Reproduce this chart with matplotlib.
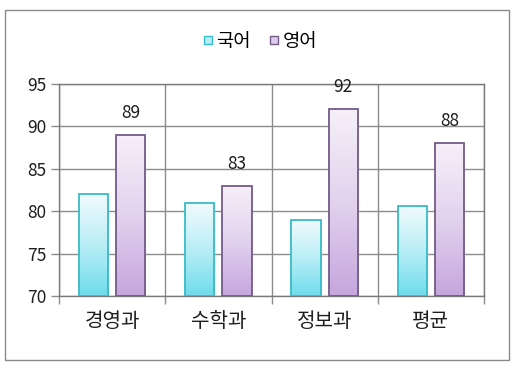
import matplotlib
matplotlib.use("Agg")
import matplotlib.pyplot as plt
import numpy as np
from matplotlib.lines import Line2D
from matplotlib.patches import Rectangle
from matplotlib.colors import LinearSegmentedColormap

plt.rcParams['font.family'] = ['Noto Sans CJK KR', 'DejaVu Sans']

categories = ['경영과', '수학과', '정보과', '평균']
series_names = ['국어', '영어']
korean = [82, 81, 79, 80.67]
english = [89, 83, 92, 88]
yticks = [70, 75, 80, 85, 90, 95]

W, H = 514, 369
fig = plt.figure(figsize=(W / 100, H / 100), dpi=100)
fig.patch.set_facecolor('white')

# outer chart frame
fig.add_artist(Rectangle((5 / W, 1 - 360 / H), 504 / W, 350 / H, transform=fig.transFigure,
                         fill=False, edgecolor='#8a8a8a', linewidth=1.0))

ax = fig.add_axes([59 / W, 1 - 296 / H, 425 / W, 212 / H])
ax.set_xlim(-0.5, 3.5)
ax.set_ylim(70, 95)

x = np.arange(len(categories))
bw = 0.274
off = 0.175

cyan_cmap = LinearSegmentedColormap.from_list('c', ['#f2fbfd', '#b9eef6', '#6fdcec'])
purp_cmap = LinearSegmentedColormap.from_list('p', ['#f6f0f9', '#e2d2ee', '#c6a6de'])

def grad_bars(xs, vals, cmap, edge):
    bars = ax.bar(xs, [v - 70 for v in vals], bw, bottom=70, facecolor='none',
                  edgecolor=edge, linewidth=1.3, zorder=4)
    grad = np.linspace(1, 0, 256).reshape(-1, 1)
    for b in bars:
        x0, y0 = b.get_x(), b.get_y()
        w, h = b.get_width(), b.get_height()
        im = ax.imshow(1 - grad, cmap=cmap, extent=[x0, x0 + w, y0, y0 + h],
                       aspect='auto', zorder=3, vmin=0, vmax=1, origin='upper')
        im.set_clip_path(Rectangle((x0, y0), w, h, transform=ax.transData))
    return bars

grad_bars(x - off, korean, cyan_cmap, '#36bcc8')
eb = grad_bars(x + off, english, purp_cmap, '#735a88')
ax.set_xlim(-0.5, 3.5)
ax.set_ylim(70, 95)

for b, v in zip(eb, english):
    ax.annotate(f'{v:g}', (b.get_x() + b.get_width() / 2, v), xytext=(0, 16),
                textcoords='offset points', ha='center', va='center',
                fontsize=12.5, color='#1e1e1e', zorder=6)

# grid
ax.set_yticks(yticks)
ax.yaxis.grid(True, color='#8c8c8c', linewidth=1.0, zorder=1)
ax.set_xticks(x)
ax.set_xticklabels(categories, fontsize=14.5, color='#1e1e1e')
ax.set_xticks(np.arange(-0.5, 4, 1), minor=True)
ax.xaxis.grid(True, which='minor', color='#8c8c8c', linewidth=1.0, zorder=1)
ax.tick_params(axis='x', which='major', length=0, pad=11)
ax.tick_params(axis='x', which='minor', length=6, color='#8c8c8c', width=1.0)
ax.tick_params(axis='y', length=6, color='#8c8c8c', width=1.0, labelsize=12.5,
               labelcolor='#1e1e1e', pad=3)
ax.set_axisbelow(True)
for s in ax.spines.values():
    s.set_color('#7a7a7a')
    s.set_linewidth(1.0)

handles = [
    Line2D([], [], marker='s', linestyle='none', markersize=5.5,
           markerfacecolor='#b7ecf4', markeredgecolor='#36bcc8', markeredgewidth=1.0),
    Line2D([], [], marker='s', linestyle='none', markersize=5.5,
           markerfacecolor='#ddcdeb', markeredgecolor='#735a88', markeredgewidth=1.0),
]
fig.legend(handles, series_names, loc='center', bbox_to_anchor=(259 / W, 1 - 41 / H),
           ncol=2, frameon=False, fontsize=13.5, handletextpad=0.1, columnspacing=0.9,
           handlelength=0.7)

fig.savefig('out.png', dpi=100, facecolor='white')
